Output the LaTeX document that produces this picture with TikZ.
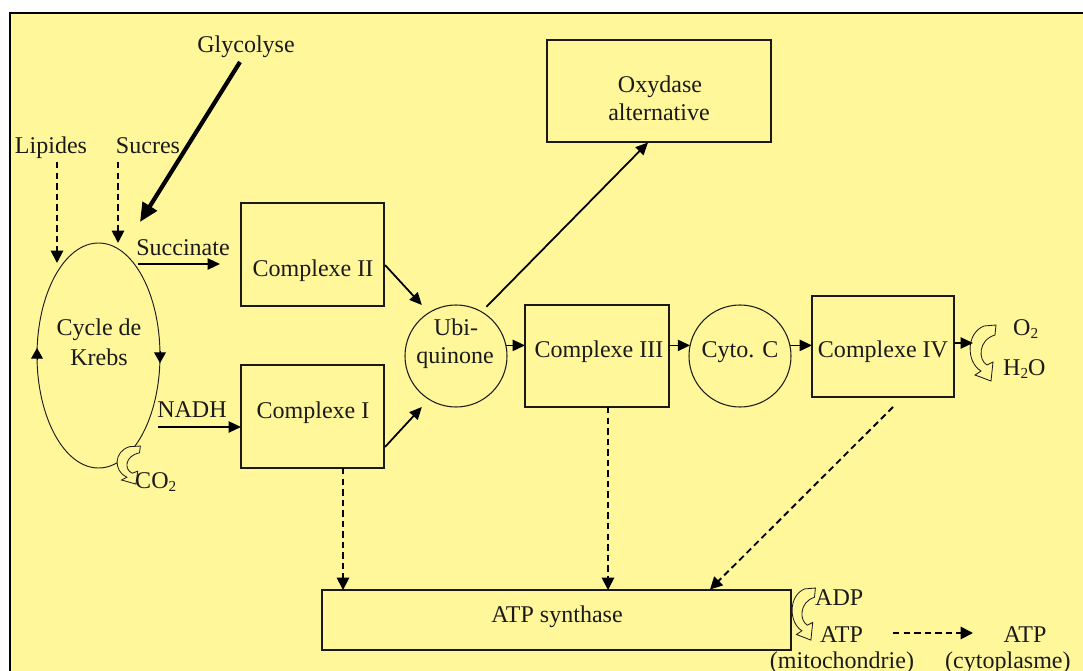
\documentclass[tikz,border=0pt]{standalone}
\usepackage{fontspec}
\setmainfont{Liberation Serif}
\usetikzlibrary{arrows.meta,calc,shapes.geometric}
\definecolor{bgyellow}{HTML}{FFF799}
\definecolor{ink}{HTML}{1A1A1A}
\newcommand{\sbt}[1]{\raisebox{-0.35ex}{\fontsize{13}{13}\selectfont #1}}
\begin{document}
\begin{tikzpicture}[x=0.03cm,y=-0.03cm,
  font=\fontsize{20.5}{24}\selectfont,
  lbl/.style={anchor=base,inner sep=0pt,text=ink},
  lblw/.style={anchor=base west,inner sep=0pt,text=ink},
  boxnode/.style={draw=ink,line width=1.1pt,rectangle,inner sep=0pt,outer sep=0pt},
  rond/.style={draw=ink,line width=0.9pt,circle,inner sep=0pt,outer sep=0pt,minimum size=3.06cm},
  arr/.style={-{Triangle[length=10.5pt,width=9.5pt]},line width=1.5pt,draw=black},
  dsh/.style={-{Triangle[length=10.5pt,width=10.5pt]},line width=1.6pt,draw=black,dash pattern=on 5.5pt off 3.5pt},
  krarr/.style={-{Triangle[length=9pt,width=10pt]},line width=0.8pt,draw=black},
  curly/.pic={
    \draw[ink,line width=0.7pt,fill=bgyellow] (14,1) -- (26,0) -- (25,10)
      .. controls (8,15) and (8,35) .. (17,40) -- (23,37) -- (21,56) -- (5,50) -- (11,46)
      .. controls (-4,37) and (-4,8) .. cycle;
  }
]
\useasboundingbox (0,0) rectangle (1083,671);
\fill[bgyellow] (10,13) rectangle (1083,671);
\draw[black,line width=2.2pt] (10,680) -- (10,13) -- (1090,13);

% shapes
\node[draw=ink,line width=0.8pt,ellipse,inner sep=0pt,outer sep=0pt,minimum width=3.69cm,minimum height=6.75cm] (krebs) at (98.5,355.5) {};
\node[boxnode,minimum width=4.29cm,minimum height=3.09cm] (c2) at (312.5,254.5) {};
\node[boxnode,minimum width=4.29cm,minimum height=3.09cm] (c1) at (312.5,416.5) {};
\node[boxnode,minimum width=6.72cm,minimum height=3.06cm] (oxy) at (659,91) {};
\node[rond] (ubi) at (456,356) {};
\node[boxnode,minimum width=4.32cm,minimum height=3.06cm] (c3) at (597,356) {};
\node[rond] (cyto) at (740,356) {};
\node[boxnode,minimum width=4.26cm,minimum height=3.03cm] (c4) at (883,346.5) {};
\node[boxnode,minimum width=14.07cm,minimum height=1.8cm] (atp) at (556.5,620) {};

% texts
\node[lbl] (glyc) at (246,53) {Glycolyse};
\node[lbl] (lip) at (51,153) {Lipides};
\node[lbl] (suc) at (148,153) {Sucres};
\node[lbl] (succ) at (183,255) {Succinate};
\node[lbl] (nadh) at (192,417) {NADH};
\node[lbl] at (99,335) {Cycle de};
\node[lbl] at (99,365) {Krebs};
\node[lbl] at (313,276) {Complexe II};
\node[lbl] at (313,418) {Complexe I};
\node[lbl] at (660,92) {Oxydase};
\node[lbl] at (659,120) {alternative};
\node[lbl] at (456,335) {Ubi-};
\node[lbl] at (455,363) {quinone};
\node[lbl] at (599,357) {Complexe III};
\node[lbl] at (740,357) {Cyto. C};
\node[lbl] at (883,357) {Complexe IV};
\node[lbl] at (557,622) {ATP synthase};
\node[lblw] (co2) at (135,488) {CO\sbt{2}};
\node[lblw] (o2) at (1013,335) {O\sbt{2}};
\node[lblw] (h2o) at (1003,375) {H\sbt{2}O};
\node[lblw] (adp) at (815,605) {ADP};
\node[lblw] (atpm) at (820,642) {ATP};
\node[lbl] at (842,668) {(mitochondrie)};
\node[lbl] (atpc) at (1025,642) {ATP};
\node[lblw] at (945,668) {(cytoplasme)};

% curly arrows
\pic at (970,325) {curly};
\pic[xscale=0.9,yscale=0.68] at (117,446) {curly};
\pic[xscale=0.9,yscale=0.93] at (792,588) {curly};

% Krebs cycle direction arrows
\draw[krarr] (37,360) -- (37,348);
\draw[krarr] (160,351) -- (160,363);

% inputs
\coordinate (lipA) at (57,162); \coordinate (lipB) at (57,263);
\coordinate (sucA) at (118,162); \coordinate (sucB) at (118,243);
\draw[dsh] (lipA) -- (lipB);
\draw[dsh] (sucA) -- (sucB);
\coordinate (glyA) at (240,62); \coordinate (glyB) at (140,222);
\draw[-{Triangle[length=16pt,width=14pt]},line width=3.6pt] (glyA) -- (glyB);

\coordinate (succA) at (138,264); \coordinate (succB) at (220,264);
\draw[arr] (succA) -- (succB);
\coordinate (nadhA) at (158,427);
\draw[arr] (nadhA) -- (nadhA -| c1.west);

% chain
\draw[arr,shorten >=9pt] ($(c2.east)+(1,10.5)$) -- (ubi.122);
\draw[arr,shorten >=9pt] ($(c1.east)+(1,30.5)$) -- (ubi.238);
\coordinate (oxyT) at (648,142.5);
\draw[arr,shorten <=6pt] (ubi.60) -- (oxyT);
\draw[arr] (ubi.12) -- (ubi.12 -| c3.west);
\draw[arr] (c3.east |- ubi.12) -- (cyto.168);
\draw[arr] (cyto.12) -- (cyto.12 -| c4.west);
\coordinate (curlIn) at (973,343);
\draw[arr] (c4.east |- curlIn) -- (curlIn);

% to ATP synthase
\coordinate (d1) at ($(c1.south)+(30.5,0)$);
\draw[dsh] (d1) -- (d1 |- atp.north);
\coordinate (d3) at ($(c3.south)+(11,0)$);
\draw[dsh] (d3) -- (d3 |- atp.north);
\coordinate (d4) at (893,407); \coordinate (d4t) at (710,589.5);
\draw[dsh] (d4) -- (d4t);

% ATP export
\coordinate (expA) at (893,633); \coordinate (expB) at (973,633);
\draw[dsh] (expA) -- (expB);
\end{tikzpicture}
\end{document}
